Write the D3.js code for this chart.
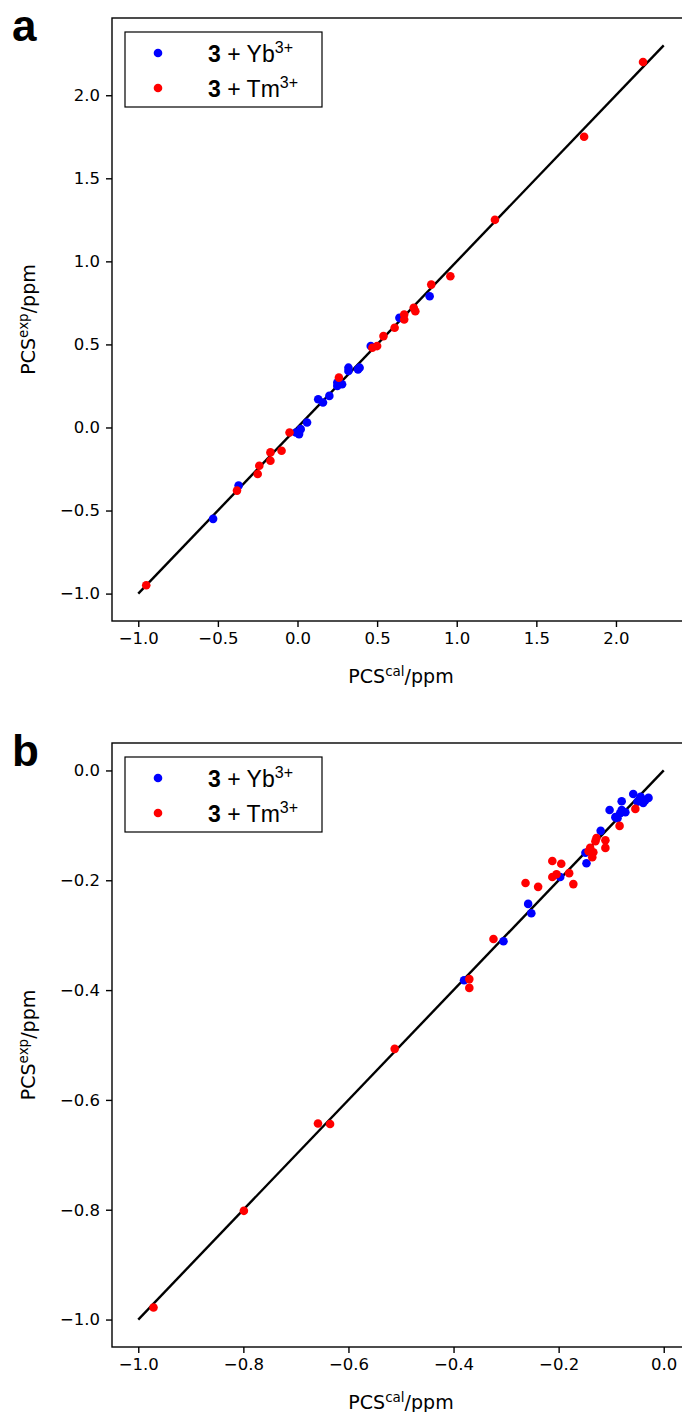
<!DOCTYPE html>
<html>
<head>
<meta charset="utf-8">
<script src="https://cdn.jsdelivr.net/npm/d3@7"></script>
<style>
  body { margin: 0; background: #fff; }
  svg { display: block; }
  .tick text { font-family: "DejaVu Sans", sans-serif; font-size: 16.5px; fill: #000; }
</style>
</head>
<body>
<svg id="chart"></svg>
<script>
// panel a : PCS values (ppm)
const aYbCal = [-0.53, -0.37, -0.01, 0.01, 0.02, 0.06, 0.13, 0.16, 0.20, 0.25, 0.25, 0.28, 0.32, 0.32, 0.38, 0.39, 0.46, 0.64, 0.83];
const aYbExp = [-0.55, -0.35, -0.03, -0.04, -0.01, 0.03, 0.17, 0.15, 0.19, 0.25, 0.27, 0.26, 0.34, 0.36, 0.35, 0.36, 0.49, 0.66, 0.79];
const aTmCal = [-0.95, -0.38, -0.25, -0.24, -0.17, -0.17, -0.10, -0.05, 0.26, 0.47, 0.50, 0.54, 0.61, 0.67, 0.67, 0.73, 0.74, 0.84, 0.96, 1.24, 1.80, 2.17];
const aTmExp = [-0.95, -0.38, -0.28, -0.23, -0.20, -0.15, -0.14, -0.03, 0.30, 0.48, 0.49, 0.55, 0.60, 0.68, 0.65, 0.72, 0.70, 0.86, 0.91, 1.25, 1.75, 2.20];
const aFit = [-1, 2.3];
const aTicksX = [-1.0, -0.5, 0.0, 0.5, 1.0, 1.5, 2.0];
const aTicksY = [-1.0, -0.5, 0.0, 0.5, 1.0, 1.5, 2.0];

// panel b
const bYbCal = [-0.058, -0.044, -0.035, -0.029, -0.050, -0.039, -0.080, -0.103, -0.080, -0.073, -0.083, -0.092, -0.088, -0.120, -0.149, -0.147, -0.197, -0.258, -0.252, -0.305, -0.380];
const bYbExp = [-0.043, -0.048, -0.054, -0.050, -0.057, -0.059, -0.056, -0.072, -0.072, -0.076, -0.078, -0.085, -0.087, -0.110, -0.150, -0.169, -0.194, -0.243, -0.260, -0.311, -0.382];
const bTmCal = [-0.054, -0.084, -0.128, -0.130, -0.111, -0.111, -0.140, -0.143, -0.134, -0.136, -0.212, -0.195, -0.204, -0.212, -0.180, -0.172, -0.239, -0.263, -0.324, -0.370, -0.370, -0.512, -0.658, -0.635, -0.799, -0.971];
const bTmExp = [-0.070, -0.101, -0.123, -0.129, -0.127, -0.141, -0.141, -0.147, -0.149, -0.158, -0.165, -0.170, -0.189, -0.194, -0.187, -0.207, -0.212, -0.205, -0.307, -0.380, -0.396, -0.507, -0.643, -0.644, -0.802, -0.978];
const bFit = [-1, 0];
const bTicksX = [-1.0, -0.8, -0.6, -0.4, -0.2, 0.0];
const bTicksY = [-1.0, -0.8, -0.6, -0.4, -0.2, 0.0];

const seriesNames = ["Yb", "Tm"];
const seriesColors = ["#0000ff", "#ff0000"];

const width = 682;
const height = 1412;

const svg = d3.select("#chart")
  .attr("width", width)
  .attr("height", height);

const panels = [
  { letter: "a", top: 18, h: 603, dom: [-1.165, 2.465], ticksX: aTicksX, ticksY: aTicksY, fit: aFit,
    series: [[aYbCal, aYbExp], [aTmCal, aTmExp]] },
  { letter: "b", top: 743, h: 604, dom: [-1.05, 0.05], ticksX: bTicksX, ticksY: bTicksY, fit: bFit,
    series: [[bYbCal, bYbExp], [bTmCal, bTmExp]] }
];

const left = 112;
const w = 578; // right spine falls just outside the picture

const drawPanel = (p) => {
  const g = svg.append("g");

  const x = d3.scaleLinear().domain(p.dom).range([left, left + w]);
  const y = d3.scaleLinear().domain(p.dom).range([p.top + p.h, p.top]);

  // y = x line
  g.append("line")
    .attr("x1", x(p.fit[0])).attr("y1", y(p.fit[0]))
    .attr("x2", x(p.fit[1])).attr("y2", y(p.fit[1]))
    .attr("stroke", "#000")
    .attr("stroke-width", 2.4);

  p.series.forEach((s, i) => {
    g.append("g").selectAll("circle")
      .data(s[0].map((v, j) => [v, s[1][j]]))
      .enter()
      .append("circle")
      .attr("cx", d => x(d[0]))
      .attr("cy", d => y(d[1]))
      .attr("r", 4.3)
      .attr("fill", seriesColors[i]);
  });

  // spines
  g.append("rect")
    .attr("x", left).attr("y", p.top)
    .attr("width", w).attr("height", p.h)
    .attr("fill", "none")
    .attr("stroke", "#000")
    .attr("stroke-width", 1.4);

  const xAxis = d3.axisBottom(x).tickValues(p.ticksX).tickFormat(d3.format(".1f")).tickSize(6).tickPadding(5);
  const yAxis = d3.axisLeft(y).tickValues(p.ticksY).tickFormat(d3.format(".1f")).tickSize(6).tickPadding(6);

  const gx = g.append("g")
    .attr("transform", "translate(0," + (p.top + p.h) + ")")
    .call(xAxis);
  const gy = g.append("g")
    .attr("transform", "translate(" + left + ",0)")
    .call(yAxis);
  [gx, gy].forEach(a => {
    a.select(".domain").remove();
    a.selectAll(".tick line").attr("stroke", "#000").attr("stroke-width", 1.4);
  });

  // axis labels
  const xl = g.append("text")
    .attr("x", left + w / 2)
    .attr("y", p.top + p.h + 62)
    .attr("text-anchor", "middle")
    .style("font-family", "DejaVu Sans")
    .style("font-size", "19px");
  xl.append("tspan").text("PCS");
  xl.append("tspan").attr("dy", -7).style("font-size", "13.5px").text("cal");
  xl.append("tspan").attr("dy", 7).text("/ppm");

  const cy = p.top + p.h / 2;
  const yl = g.append("text")
    .attr("transform", "translate(35," + cy + ") rotate(-90)")
    .attr("text-anchor", "middle")
    .style("font-family", "DejaVu Sans")
    .style("font-size", "19px");
  yl.append("tspan").text("PCS");
  yl.append("tspan").attr("dy", -7).style("font-size", "13.5px").text("exp");
  yl.append("tspan").attr("dy", 7).text("/ppm");

  // panel letter
  g.append("text")
    .attr("x", 12)
    .attr("y", p.top + 23)
    .style("font-family", "Liberation Sans, Arial, sans-serif")
    .style("font-weight", "bold")
    .style("font-size", "44px")
    .text(p.letter);

  // legend
  const lg = g.append("g");
  lg.append("rect")
    .attr("x", 125).attr("y", p.top + 14)
    .attr("width", 197).attr("height", 75)
    .attr("fill", "#fff")
    .attr("stroke", "#000")
    .attr("stroke-width", 1.2);
  seriesNames.forEach((name, i) => {
    const ly = p.top + 35 + i * 35;
    lg.append("circle")
      .attr("cx", 158).attr("cy", ly)
      .attr("r", 4.3)
      .attr("fill", seriesColors[i]);
    const t = lg.append("text")
      .attr("x", 208).attr("y", ly + 9)
      .style("font-family", "Liberation Sans, Arial, sans-serif")
      .style("font-size", "23px");
    t.append("tspan").style("font-weight", "bold").text("3");
    t.append("tspan").text(" + " + name);
    t.append("tspan").attr("dy", -9).style("font-size", "16px").text("3+");
  });
};

panels.forEach(drawPanel);
</script>
</body>
</html>
